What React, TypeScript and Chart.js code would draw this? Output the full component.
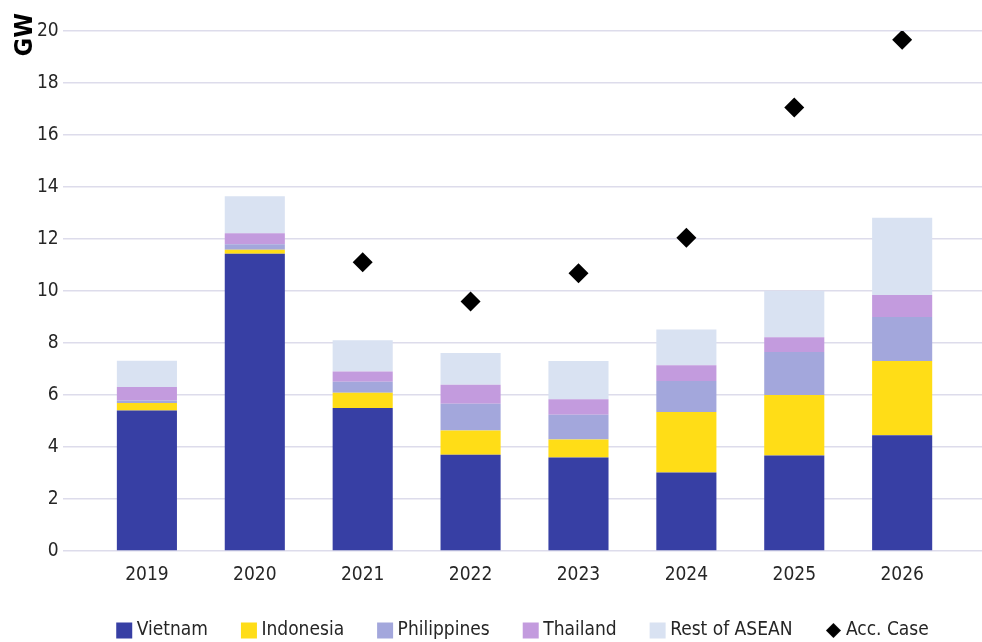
import React, { useEffect, useRef } from 'react';
import { Chart, registerables } from 'chart.js';

Chart.register(...registerables);

const years = ['2019', '2020', '2021', '2022', '2023', '2024', '2025', '2026'];
const vietnam = [5.4, 11.43, 5.5, 3.7, 3.6, 3.02, 3.67, 4.45];
const indonesia = [0.29, 0.16, 0.59, 0.93, 0.69, 2.33, 2.33, 2.86];
const philippines = [0.1, 0.21, 0.42, 1.03, 0.95, 1.19, 1.65, 1.69];
const thailand = [0.52, 0.42, 0.39, 0.73, 0.6, 0.6, 0.57, 0.85];
const restOfAsean = [1.01, 1.42, 1.21, 1.23, 1.47, 1.38, 1.78, 2.97];
const accCase: (number | null)[] = [null, null, 11.11, 9.6, 10.68, 12.05, 17.06, 19.66];

const yMin = 0;
const yMax = 20;
const yStep = 2;

const FONT = '"DejaVu Sans Condensed", "DejaVu Sans", sans-serif';
const TEXT = '#262626';

const seriesDefs = [
  { label: 'Vietnam', data: vietnam, color: '#373FA4' },
  { label: 'Indonesia', data: indonesia, color: '#FFDD17' },
  { label: 'Philippines', data: philippines, color: '#A3A7DC' },
  { label: 'Thailand', data: thailand, color: '#C39BDE' },
  { label: 'Rest of ASEAN', data: restOfAsean, color: '#D9E2F2' },
];

const LEGEND_PAD = 38;

const legendShift = {
  id: 'legendShift',
  afterLayout(chart: any) {
    if (chart.legend) {
      const shift = 525 - (chart.legend.left + chart.legend.right) / 2;
      chart.legend.left += shift;
      chart.legend.right += shift;
    }
  },
};

export default function App() {
  const ref = useRef<HTMLCanvasElement | null>(null);

  useEffect(() => {
    if (!ref.current) return;

    const diamond = document.createElement('canvas');
    diamond.width = 15;
    diamond.height = 15;
    const dctx = diamond.getContext('2d');
    if (dctx) {
      dctx.fillStyle = '#000';
      dctx.beginPath();
      dctx.moveTo(7.5, 0);
      dctx.lineTo(15, 7.5);
      dctx.lineTo(7.5, 15);
      dctx.lineTo(0, 7.5);
      dctx.closePath();
      dctx.fill();
    }

    const barSets = seriesDefs.map((s) => ({
      type: 'bar' as const,
      label: s.label,
      data: s.data.map((v, i) => ({ x: i, y: v })),
      backgroundColor: s.color,
      borderWidth: 0,
      pointStyle: 'rect',
      categoryPercentage: 1,
      barPercentage: 0.557,
    }));

    const accSet = {
      type: 'scatter' as const,
      label: 'Acc. Case',
      data: accCase
        .map((v, i) => (v === null ? null : { x: i, y: v }))
        .filter((p) => p !== null),
      backgroundColor: '#000',
      borderColor: '#000',
      borderWidth: 0,
      pointStyle: 'rectRot',
      pointRadius: 10,
      pointHoverRadius: 10,
      showLine: false,
    };

    const chart = new Chart(ref.current, {
      type: 'bar',
      data: { datasets: [...barSets, accSet] as any },
      plugins: [legendShift],
      options: {
        responsive: false,
        animation: false,
        layout: { autoPadding: false, padding: { left: 0, right: 0, top: 13, bottom: -8 } },
        plugins: {
          tooltip: { enabled: false },
          title: {
            display: true,
            text: 'GW',
            position: 'left',
            align: 'end',
            color: '#000',
            font: { family: FONT, size: 25, weight: 'bold', lineHeight: '16px' },
            padding: { top: 17, bottom: 0 },
          },
          legend: {
            position: 'bottom',
            fullSize: false,
            labels: {
              usePointStyle: true,
              boxWidth: 6,
              boxHeight: 16,
              padding: LEGEND_PAD,
              color: TEXT,
              font: { family: FONT, size: 19 },
              generateLabels: (c: any) => {
                const items = Chart.defaults.plugins.legend.labels.generateLabels(c);
                return items.map((it: any) => {
                  if (it.datasetIndex === seriesDefs.length) {
                    it.pointStyle = diamond;
                  }
                  return it;
                });
              },
            },
          },
        },
        scales: {
          x: {
            type: 'linear',
            stacked: true,
            offset: false,
            min: -0.78,
            max: 7.74,
            bounds: 'data',
            grid: { display: false },
            border: { display: false },
            afterBuildTicks: (axis: any) => {
              axis.ticks = years.map((_, i) => ({ value: i }));
            },
            afterFit: (axis: any) => {
              axis.height = 70 - LEGEND_PAD;
              axis.paddingLeft = 0;
              axis.paddingRight = 0;
            },
            ticks: {
              autoSkip: false,
              maxRotation: 0,
              padding: 5,
              color: TEXT,
              font: { family: FONT, size: 19 },
              callback: (v: any) => years[Math.round(Number(v))] ?? '',
            },
          },
          y: {
            stacked: true,
            min: yMin,
            max: yMax,
            afterFit: (axis: any) => {
              axis.paddingTop = 31;
            },
            grid: { color: '#DDDCEB', lineWidth: 1.5, drawTicks: false },
            border: { display: false },
            ticks: {
              stepSize: yStep,
              padding: 4,
              color: TEXT,
              font: { family: FONT, size: 19 },
            },
          },
        },
      } as any,
    });

    return () => chart.destroy();
  }, []);

  return (
    <div style={{ position: 'fixed', left: 0, top: 0, width: 982, height: 642, background: '#fff' }}>
      <canvas ref={ref} width={982} height={642} style={{ display: 'block' }} />
    </div>
  );
}
